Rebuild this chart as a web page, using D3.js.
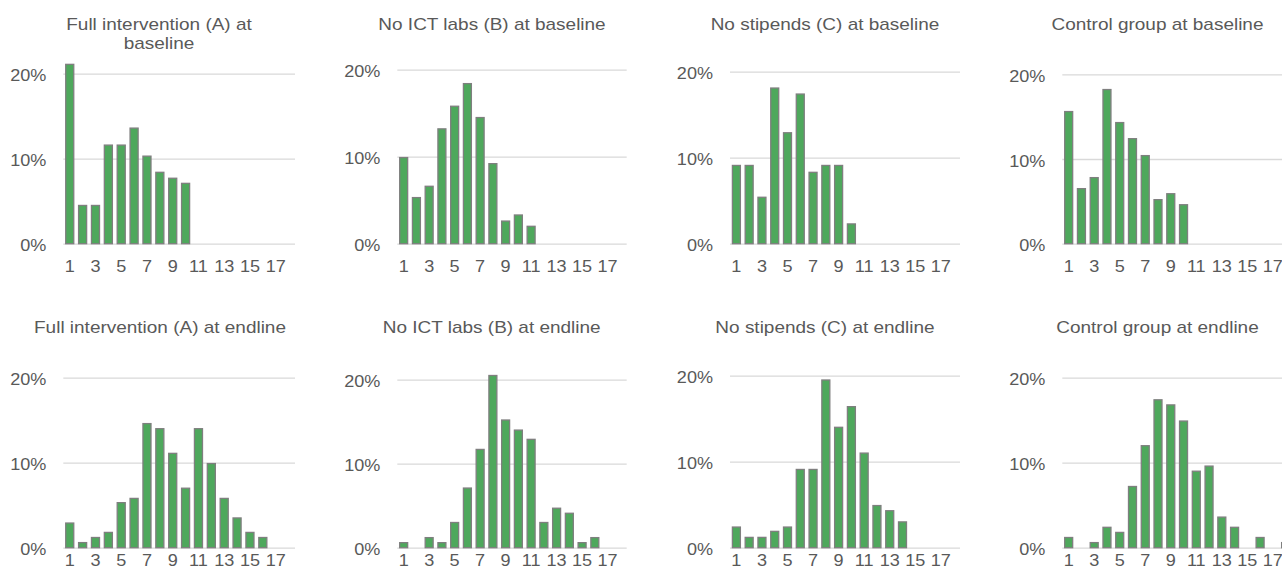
<!DOCTYPE html>
<html>
<head>
<meta charset="utf-8">
<script src="https://cdn.jsdelivr.net/npm/d3@7"></script>
<style>
  html, body { margin: 0; padding: 0; background: #ffffff; }
  svg { display: block; }
  text { font-family: "Liberation Sans", Arial, sans-serif; fill: #595959; }
</style>
</head>
<body>
<svg id="chart" width="1282" height="577"></svg>
<script>
// ---- Data ----
const categories = [1, 2, 3, 4, 5, 6, 7, 8, 9, 10, 11, 12, 13, 14, 15, 16, 17, 18];
const xTickLabels = ["1", "3", "5", "7", "9", "11", "13", "15", "17"];
const yTickValues = [0, 10, 20];
const yTickLabels = ["0%", "10%", "20%"];

const titles = [
  ["Full intervention (A) at", "baseline"],
  ["No ICT labs (B) at baseline"],
  ["No stipends (C) at baseline"],
  ["Control group at baseline"],
  ["Full intervention (A) at endline"],
  ["No ICT labs (B) at endline"],
  ["No stipends (C) at endline"],
  ["Control group at endline"]
];

const fullBaseline    = [21.1, 4.5, 4.5, 11.6, 11.6, 13.6, 10.3, 8.4, 7.7, 7.1, 0, 0, 0, 0, 0, 0, 0, 0];
const ictBaseline     = [9.9, 5.3, 6.6, 13.2, 15.8, 18.4, 14.5, 9.2, 2.6, 3.3, 2.0, 0, 0, 0, 0, 0, 0, 0];
const stipBaseline    = [9.1, 9.1, 5.4, 18.1, 12.9, 17.4, 8.3, 9.1, 9.1, 2.3, 0, 0, 0, 0, 0, 0, 0, 0];
const controlBaseline = [15.6, 6.5, 7.8, 18.2, 14.3, 12.4, 10.4, 5.2, 5.9, 4.6, 0, 0, 0, 0, 0, 0, 0, 0];
const fullEndline     = [2.9, 0.6, 1.2, 1.8, 5.3, 5.8, 14.6, 14.0, 11.1, 7.0, 14.0, 9.9, 5.8, 3.5, 1.8, 1.2, 0, 0];
const ictEndline      = [0.6, 0, 1.2, 0.6, 3.0, 7.1, 11.7, 20.5, 15.2, 14.0, 12.9, 3.0, 4.7, 4.1, 0.6, 1.2, 0, 0];
const stipEndline     = [2.4, 1.2, 1.2, 1.9, 2.4, 9.1, 9.1, 19.5, 14.0, 16.4, 11.0, 4.9, 4.3, 3.0, 0, 0, 0, 0];
const controlEndline  = [1.2, 0, 0.6, 2.4, 1.8, 7.2, 12.0, 17.4, 16.8, 14.9, 9.0, 9.6, 3.6, 2.4, 0, 1.2, 0, 0.6];

const seriesList = [fullBaseline, ictBaseline, stipBaseline, controlBaseline,
                    fullEndline, ictEndline, stipEndline, controlEndline];

// ---- Layout (positions only) ----
const layout = [
  { x0: 63.3,   x1: 295,   y0: 243.7, y10: 158.7, tx: 159,    ty: 29.5, xpad: 17 },
  { x0: 397.3,  x1: 626.7, y0: 243.7, y10: 156.7, tx: 492,    ty: 29.5, xpad: 17 },
  { x0: 730,    x1: 960,   y0: 243.7, y10: 157.7, tx: 825,    ty: 29.5, xpad: 17 },
  { x0: 1062.3, x1: 1292,  y0: 243.7, y10: 159.0, tx: 1157.5, ty: 29.5, xpad: 17 },
  { x0: 63.3,   x1: 295,   y0: 547.7, y10: 462.7, tx: 160,    ty: 333,  xpad: 7 },
  { x0: 397.3,  x1: 626.7, y0: 547.7, y10: 463.7, tx: 491.7,  ty: 333,  xpad: 7 },
  { x0: 730,    x1: 960,   y0: 547.7, y10: 461.7, tx: 825,    ty: 333,  xpad: 7 },
  { x0: 1062.3, x1: 1292,  y0: 547.7, y10: 462.7, tx: 1157.5, ty: 333,  xpad: 7 }
];

const SX = 1.13;          // horizontal text stretch seen in the reference
const fill = "#4EA85C";
const edge = "#7F7F7F";
const grid = "#D9D9D9";

const svg = d3.select("#chart");

seriesList.forEach((values, i) => {
  const L = layout[i];
  const g = svg.append("g");

  const x = d3.scaleBand().domain(categories).range([L.x0, L.x1])
    .paddingInner(0.375).paddingOuter(0.1875);
  const y = d3.scaleLinear().domain([0, 10]).range([L.y0, L.y10]);

  // gridlines
  const gridAxis = d3.axisLeft(y).tickValues(yTickValues).tickSize(-(L.x1 - L.x0)).tickFormat("");
  const gg = g.append("g").attr("transform", `translate(${L.x0},0)`).call(gridAxis);
  gg.select(".domain").remove();
  gg.selectAll("line").attr("stroke", grid).attr("stroke-width", 1.3);

  // y axis labels
  const yAxis = d3.axisLeft(y).tickValues(yTickValues).tickSize(0).tickPadding(17 / SX)
    .tickFormat((d, k) => yTickLabels[k]);
  const ya = g.append("g").attr("transform", `translate(${L.x0},0)`).call(yAxis);
  ya.select(".domain").remove();
  ya.selectAll("text").attr("font-size", 16).attr("font-family", null).attr("fill", "#595959")
    .attr("dy", "0.44em").attr("transform", `scale(${SX},1)`);

  // x axis labels
  const xAxis = d3.axisBottom(x).tickValues(categories.filter(c => c % 2 === 1)).tickSize(0).tickPadding(L.xpad)
    .tickFormat((d, k) => xTickLabels[k]);
  const xa = g.append("g").attr("transform", `translate(0,${L.y0})`).call(xAxis);
  xa.select(".domain").remove();
  xa.selectAll("text").attr("font-size", 16).attr("font-family", null).attr("fill", "#595959")
    .attr("transform", `scale(${SX},1)`);

  // bars
  g.append("g").selectAll("rect")
    .data(categories.map((c, k) => ({ c, v: values[k] })).filter(d => d.v > 0))
    .join("rect")
    .attr("x", d => x(d.c))
    .attr("width", x.bandwidth())
    .attr("y", d => y(d.v))
    .attr("height", d => y(0) - y(d.v))
    .attr("fill", fill)
    .attr("stroke", edge)
    .attr("stroke-width", 1.3);

  // title
  const t = svg.append("text")
    .attr("transform", `translate(${L.tx},${L.ty}) scale(${SX},1)`)
    .attr("text-anchor", "middle")
    .attr("font-size", 16.8);
  titles[i].forEach((line, k) => {
    t.append("tspan").attr("x", 0).attr("y", k * 20).text(line);
  });
});
</script>
</body>
</html>
